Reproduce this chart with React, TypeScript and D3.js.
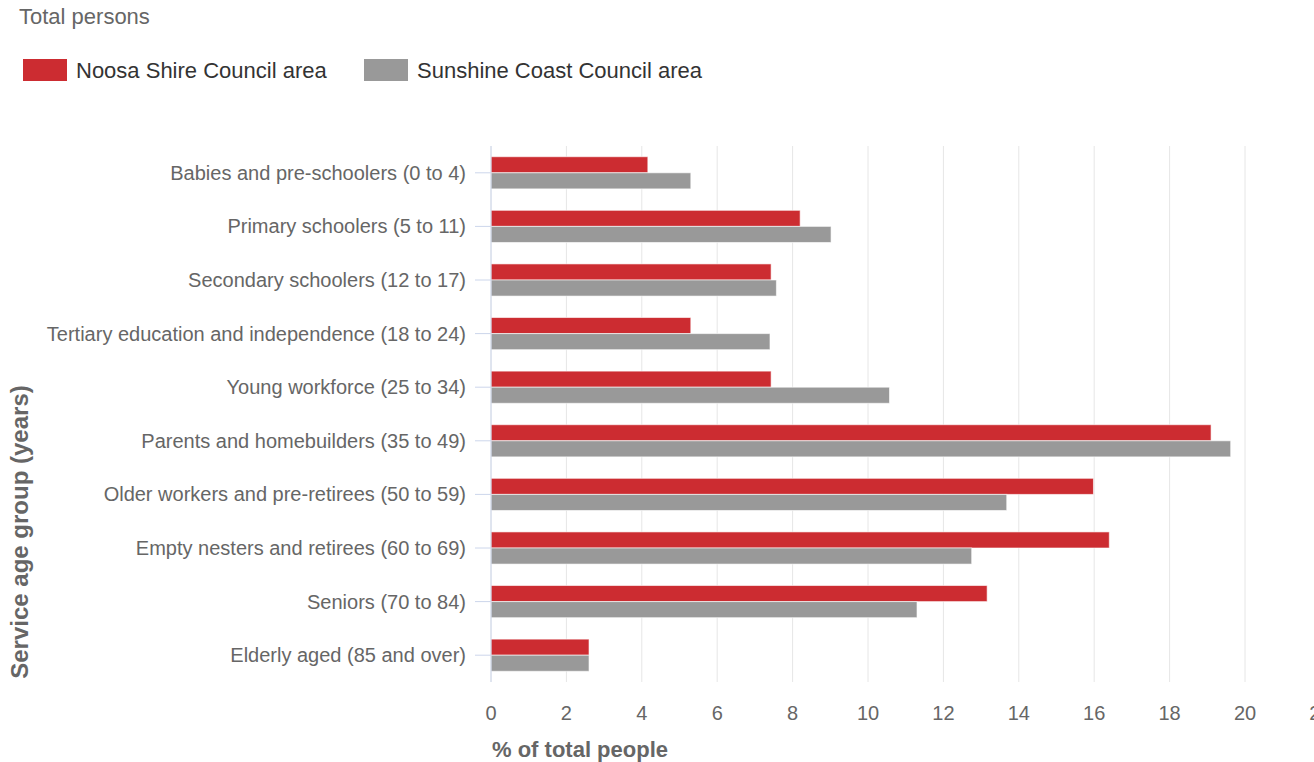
import React from "react";
import * as d3 from "d3";

const categories = [
  "Babies and pre-schoolers (0 to 4)",
  "Primary schoolers (5 to 11)",
  "Secondary schoolers (12 to 17)",
  "Tertiary education and independence (18 to 24)",
  "Young workforce (25 to 34)",
  "Parents and homebuilders (35 to 49)",
  "Older workers and pre-retirees (50 to 59)",
  "Empty nesters and retirees (60 to 69)",
  "Seniors (70 to 84)",
  "Elderly aged (85 and over)",
];
const noosa = [4.16, 8.2, 7.43, 5.3, 7.43, 19.1, 15.98, 16.4, 13.16, 2.6];
const sunshine = [5.3, 9.02, 7.57, 7.4, 10.57, 19.62, 13.68, 12.75, 11.3, 2.6];
const seriesNames = ["Noosa Shire Council area", "Sunshine Coast Council area"];
const seriesColors = ["#cc2c31", "#999999"];
const xTicks = [0, 2, 4, 6, 8, 10, 12, 14, 16, 18, 20, 22];

const W = 1314;
const H = 762;
const left = 491;
const top = 146;
const bottom = 682;
const FONT = "'Liberation Sans', Arial, sans-serif";

export default function App() {
  const x = d3.scaleLinear().domain([0, 20]).range([left, 1245]);
  const y = d3.scaleBand<string>().domain(categories).range([top, bottom]).padding(0);
  const bw = y.bandwidth();
  const inner = d3
    .scaleBand<number>()
    .domain([0, 1])
    .range([bw * 0.2, bw * 0.8])
    .padding(0);
  const series = [noosa, sunshine];

  return (
    <svg
      width={W}
      height={H}
      style={{ position: "absolute", left: 0, top: 0, background: "#fff" }}
      fontFamily={FONT}
    >
      <text x={19} y={24} fontSize={22} fill="#666">
        Total persons
      </text>
      {/* legend */}
      {seriesNames.map((n, i) => {
        const lx = i === 0 ? 23 : 364;
        return (
          <g key={n}>
            <rect x={lx} y={59} width={44} height={22} fill={seriesColors[i]} />
            <text x={lx + 53} y={78} fontSize={22} fill="#333">
              {n}
            </text>
          </g>
        );
      })}
      {/* gridlines */}
      {xTicks.map((t) => (
        <line
          key={t}
          x1={x(t)}
          x2={x(t)}
          y1={top}
          y2={bottom}
          stroke="#e6e6e6"
          strokeWidth={1}
        />
      ))}
      {/* bars */}
      {series.map((vals, si) =>
        categories.map((c, ci) => (
          <rect
            key={`${si}-${ci}`}
            x={x(0)}
            y={(y(c) as number) + (inner(si) as number)}
            width={x(vals[ci]) - x(0)}
            height={inner.bandwidth()}
            fill={seriesColors[si]}
            stroke="#ffffff"
            strokeOpacity={0.6}
            strokeWidth={1}
          />
        ))
      )}
      {/* y axis line */}
      <line x1={left} x2={left} y1={top} y2={bottom} stroke="#ccd6eb" strokeWidth={1} />
      {categories.map((c) => {
        const cy = (y(c) as number) + bw / 2;
        return (
          <g key={c}>
            <line x1={475} x2={left} y1={cy} y2={cy} stroke="#ccd6eb" strokeWidth={1} />
            <text
              x={466}
              y={cy}
              dy="0.35em"
              textAnchor="end"
              fontSize={20}
              fill="#666"
            >
              {c}
            </text>
          </g>
        );
      })}
      {/* x tick labels */}
      {xTicks.map((t) => (
        <text
          key={t}
          x={x(t)}
          y={713}
          dy="0.35em"
          textAnchor="middle"
          fontSize={20}
          fill="#666"
        >
          {t}
        </text>
      ))}
      <text x={492} y={757} fontSize={22} fontWeight="bold" fill="#666">
        % of total people
      </text>
      <text
        transform={`translate(28, 532) rotate(-90)`}
        textAnchor="middle"
        fontSize={24}
        fontWeight="bold"
        fill="#666"
      >
        Service age group (years)
      </text>
    </svg>
  );
}
